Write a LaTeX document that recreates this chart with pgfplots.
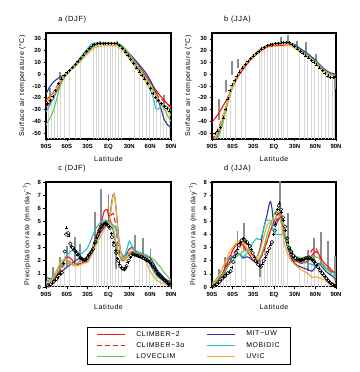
\documentclass[border=0pt]{standalone}
\usepackage{fontspec}
\setmainfont{Liberation Sans}
\newfontfamily\wide[LetterSpace=8]{Liberation Sans}
\usepackage{pgfplots}
\pgfplotsset{compat=1.18}
\definecolor{cRed}{RGB}{250,20,20}
\definecolor{cBlue}{RGB}{45,55,160}
\definecolor{cGreen}{RGB}{105,195,85}
\definecolor{cCyan}{RGB}{35,190,200}
\definecolor{cOrange}{RGB}{245,172,45}
\definecolor{lgray}{RGB}{214,214,214}
\definecolor{dgray}{RGB}{140,140,140}
\tikzset{
  mline/.style={line width=1.1pt, smooth, tension=0.35},
  mR/.style={mline, draw=cRed},
  mB/.style={mline, draw=cBlue},
  mRd/.style={mline, draw=cRed, dash pattern=on 5bp off 3bp},
  mC/.style={mline, draw=cCyan},
  mG/.style={mline, draw=cGreen},
  mO/.style={mline, draw=cOrange},
}
\pgfplotsset{
  longline/.style={legend image code/.code={\draw[##1] (0bp,0bp) -- (28bp,0bp);}},
  panel/.style={scale only axis, width=125bp, height=106bp,
    xmin=-90, xmax=90, xtick={-90,-60,...,90},
    xticklabels={90S,60S,30S,EQ,30N,60N,90N},
    tick align=outside, major tick length=2.5bp, tick pos=left,
    axis line style={line width=1.1pt}, every tick/.style={black, line width=0.6pt},
    tick label style={font=\bfseries\fontsize{6}{7}\selectfont},
    xticklabel style={yshift=1bp}, yticklabel style={xshift=1bp},
    /pgf/number format/assume math mode=true,
    xlabel={Latitude},
    label style={font=\wide\fontsize{7}{8}\selectfont},
    title style={at={(0.07,1)}, anchor=south west, yshift=0.5bp, font=\wide\fontsize{7.5}{9}\selectfont},
    clip=true},
  tpanel/.style={panel, ymin=-55, ymax=35, ytick={-50,-40,...,30},
    ylabel={Surface air temperature (°C)}},
  ppanel/.style={panel, height=105bp, ymin=0, ymax=8, ytick={0,1,...,8},
    ylabel={Precipitation rate (mm day\textsuperscript{−1})}},
  lightbars/.style={draw=none, mark=none,
    error bars/.cd, y dir=minus, y fixed=300, error mark=none,
    error bar style={draw=lgray, line width=0.7pt}},
  darkbars/.style={draw=none, mark=none,
    error bars/.cd, y dir=both, y explicit, error mark=none,
    error bar style={draw=dgray, line width=1.9pt}},
  crosses/.style={only marks, mark=+, mark size=1.5pt, black, mark options={line width=0.45pt}},
  circles/.style={only marks, mark=o, mark size=1.8pt, black, mark options={line width=0.5pt, fill=white}},
}
\begin{document}
\begin{tikzpicture}
\path[use as bounding box] (0,0) rectangle (360bp,372bp);

% ---------------- panel a ----------------
\begin{axis}[tpanel, at={(46bp,233bp)}, anchor=south west, title={a (DJF)}]
\addplot[forget plot, lightbars] coordinates {(-86,-23) (-82,-20) (-78,-16) (-73,-9) (-69,-5) (-64,-1) (-56,3.5) (-48,8.5) (-41,13) (-22,24.5) (-18,25.7) (-14,26.2) (-10,26.3) (-6,26.3) (-2,26.3) (2,26.3) (6,26.3) (10,26.1) (14,25.3) (19,22.7) (37,8) (44,2) (49,-2) (54,-5.7) (59,-11) (64,-16) (69,-20) (74,-24) (79,-26.5) (84,-29) (88,-31)};
\addplot[forget plot, darkbars] coordinates {(-84,-19) +- (0,7) (-70,-1.5) +- (0,3) (70,-19) +- (0,5) (80,-22.5) +- (0,4.5) (-12,27.3) +- (0,1) (12,27) +- (0,1)};
\addplot[mR] coordinates {(-90,-28) (-85,-25) (-80,-21) (-75,-15) (-70,-9) (-65,-4) (-60,0) (-50,6.5) (-40,13) (-30,19.5) (-20,24.3) (-10,26) (0,26) (10,25.8) (20,23) (30,16.5) (40,9.5) (50,2) (60,-6.5) (70,-15) (80,-22) (85,-25.5) (90,-29)};
\addplot[mB] coordinates {(-90,-17) (-85,-11) (-80,-7) (-75,-4.5) (-70,-2.5) (-65,-1) (-60,1) (-50,6.5) (-40,13) (-30,20) (-20,24.5) (-10,26) (0,26.3) (10,26) (20,23.5) (30,17.5) (40,11) (50,4) (55,0) (60,-5) (65,-11) (70,-19) (75,-28) (80,-38) (85,-43) (90,-45)};
\addplot[mRd] coordinates {(-90,-22) (-85,-19) (-80,-16) (-75,-11) (-70,-6) (-65,-2) (-60,0.5) (-50,6) (-40,12.5) (-30,19.5) (-20,24.5) (-10,26) (0,26.2) (10,26) (20,23) (30,15.5) (40,8) (50,0) (60,-9) (70,-18) (80,-23) (85,-25) (90,-28)};
\addplot[mC] coordinates {(-90,-32) (-85,-27) (-80,-21) (-75,-14) (-70,-6) (-65,-2) (-60,1) (-50,7.5) (-40,14.5) (-30,22) (-25,25.5) (-20,26.5) (-10,26.5) (0,26.5) (10,26) (20,22) (30,14.5) (40,6.5) (50,-2) (60,-13) (65,-21) (68,-29) (72,-29.5) (77,-26) (83,-27) (90,-31)};
\addplot[mG] coordinates {(-90,-43) (-85,-38) (-80,-32) (-75,-22) (-70,-11) (-65,-4) (-60,0) (-50,6) (-40,12.5) (-30,19) (-20,24) (-10,26) (0,26.5) (10,26.5) (15,26) (20,24) (30,17) (40,9) (50,0.5) (60,-9) (70,-19) (75,-24) (80,-29) (85,-35) (90,-40)};
\addplot[mO] coordinates {(-90,-25) (-85,-21) (-80,-17) (-75,-12) (-70,-7) (-65,-2.5) (-60,0.5) (-50,5.5) (-40,11) (-30,17.5) (-20,22.5) (-10,24) (0,24.3) (10,24) (20,20.5) (30,13) (40,5) (50,-3) (60,-12) (70,-20) (80,-28) (85,-31) (90,-35)};
\addplot[forget plot, crosses] coordinates {(-88,-25) (-84,-22) (-80,-19) (-76,-14) (-72,-8) (-68,-4) (-64,-1) (-60,1.5) (-56,3.5) (-52,6) (-48,8.5) (-44,11) (-40,13.5) (-36,16.5) (-32,19.5) (-28,22) (-24,24) (-20,25.3) (-16,26) (-12,26.3) (-8,26.3) (-4,26.3) (0,26.3) (4,26.3) (8,26.2) (12,26) (16,24.5) (20,22) (24,19) (28,16) (32,12.5) (36,9) (40,5.5) (44,2) (48,-1) (52,-4) (56,-7.5) (60,-12) (64,-16) (68,-19.5) (72,-22.5) (76,-25) (80,-27) (84,-29) (88,-31)};
\end{axis}

% ---------------- panel b ----------------
\begin{axis}[tpanel, at={(212bp,233bp)}, anchor=south west, width=124bp, title={b (JJA)}]
\addplot[forget plot, lightbars] coordinates {(-86,-50) (-82,-48) (-78,-45) (-73,-35) (-69,-28) (-64,-14) (-56,-4) (-48,3.7) (-41,8) (-22,19.5) (-18,21.5) (-14,23) (-10,24.3) (-6,25) (-2,25.5) (2,26) (6,26.3) (10,26.7) (14,27) (19,27) (37,20) (44,16.5) (49,14.4) (54,12) (59,9.5) (64,6.7) (69,3.6) (74,0.5) (79,-1.8) (84,-2.5) (88,-2.2)};
\addplot[forget plot, darkbars] coordinates {(-80,-30) +- (0,9) (-70,-10) +- (0,5) (-61,5) +- (0,6) (-52,9) +- (0,3.5) (10,29) +- (0,3) (20,29.5) +- (0,3.5) (33,25) +- (0,3.5) (47,22.5) +- (0,4.5) (60.5,13.5) +- (0,3.5) (78,0) +- (0,3) (89,-6) +- (0,6.5)};
\addplot[mR] coordinates {(-90,-41) (-85,-37) (-80,-33) (-75,-28) (-70,-23) (-65,-17) (-60,-11) (-55,-5) (-50,0) (-45,4) (-40,8) (-35,11.5) (-30,14.5) (-20,19.5) (-10,23) (0,24) (10,24.5) (20,25) (25,26) (30,25) (35,22) (40,19.5) (50,15) (60,10) (70,5) (80,1) (85,0) (90,-0.5)};
\addplot[mB] coordinates {(-90,-60) (-85,-56) (-80,-49) (-75,-40) (-70,-29) (-65,-19) (-60,-10) (-55,-3.5) (-50,1.5) (-45,6) (-40,9.5) (-30,15.5) (-20,21) (-10,24.5) (0,26) (10,26.5) (20,27) (30,25) (40,21) (50,17) (60,12) (70,6) (80,1.5) (90,0)};
\addplot[mRd] coordinates {(-90,-56) (-85,-51) (-80,-45) (-75,-37) (-70,-28) (-65,-19) (-60,-10) (-55,-4) (-50,1.5) (-45,6) (-40,9.5) (-30,15) (-20,20.5) (-10,24) (0,25.5) (10,26) (20,26) (30,23.5) (40,19.5) (50,15) (60,10.5) (70,4.5) (80,0.5) (90,-1)};
\addplot[mC] coordinates {(-90,-60) (-85,-55) (-80,-48) (-75,-39) (-70,-28) (-65,-18) (-60,-9) (-55,-3) (-50,2) (-45,6.5) (-40,10) (-30,16) (-20,21.5) (-10,24.5) (0,26) (10,26.5) (20,27) (30,24) (40,19.5) (50,15.5) (60,10.5) (65,7) (70,3.5) (80,0.5) (90,-1)};
\addplot[mG] coordinates {(-90,-62) (-85,-58) (-80,-52) (-75,-43) (-70,-31) (-65,-20) (-60,-11) (-55,-4) (-50,1.5) (-45,6) (-40,9.5) (-30,15.5) (-20,21) (-10,24.5) (0,26) (10,26.5) (20,26.5) (30,24) (40,19.5) (50,15) (60,11) (70,5) (80,0.5) (90,-2)};
\addplot[mO] coordinates {(-90,-58) (-85,-54) (-80,-47) (-75,-38) (-70,-28) (-65,-18) (-60,-9.5) (-55,-3) (-50,2) (-45,6) (-40,9.5) (-30,15.5) (-20,20.5) (-10,23.5) (0,25) (10,25.5) (20,25) (25,24) (30,22) (40,18) (50,14) (60,9.5) (70,3.5) (80,-0.5) (90,-1.5)};
\addplot[forget plot, crosses] coordinates {(-86,-50) (-82,-48) (-78,-45) (-74,-37) (-70,-30) (-67,-21) (-64,-14) (-61,-9) (-57,-5) (-54,-1.5) (-50,2) (-46,5.5) (-42,8.5) (-38,11) (-34,13.5) (-30,15.5) (-26,17.5) (-22,19.5) (-18,21.5) (-14,23) (-10,24.3) (-6,25) (-2,25.5) (2,26) (6,26.3) (10,26.7) (14,27) (18,27) (22,26.8) (26,25.5) (30,23.5) (34,21.5) (38,19.5) (42,17.5) (46,15.5) (50,14) (54,12) (58,10) (62,8) (66,5.5) (70,3) (74,0.5) (78,-1.5) (82,-2.5) (86,-2.5) (89,-2)};
\end{axis}

% ---------------- panel c ----------------
\begin{axis}[ppanel, at={(46bp,85bp)}, anchor=south west, title={c (DJF)},
  legend columns=2, longline,
  legend style={at={(0.328,-0.381)}, anchor=north west,
    font=\wide\fontsize{7}{8}\selectfont, inner xsep=9bp, inner ysep=2bp,
    row sep=0.8bp,
    /tikz/every odd column/.append style={column sep=9bp},
    /tikz/every even column/.append style={column sep=20bp}},
  legend cell align=left]
\addplot[forget plot, lightbars] coordinates {(-86,0.12) (-82,0.22) (-78,0.45) (-73,0.75) (-69,1.05) (-64,2.6) (-56,3.6) (-48,2.75) (-41,2.25) (-22,2.9) (-18,3.55) (-14,4.15) (-10,4.6) (-6,4.82) (-2,4.75) (2,4.5) (6,3.6) (10,2.8) (14,2.0) (19,1.45) (37,2.48) (44,2.35) (49,2.25) (54,2.1) (59,1.9) (64,1.6) (69,1.2) (74,0.85) (79,0.6) (84,0.35) (88,0.18)};
\addplot[forget plot, darkbars] coordinates {(-80,0.9) +- (0,0.6) (-70,1.6) +- (0,0.7) (-60,2.3) +- (0,0.8) (-48,2.9) +- (0,0.9) (-41,2.6) +- (0,0.7) (-20,4.6) +- (0,1.1) (-11,6.0) +- (0,1.5) (0,5.9) +- (0,1.2) (10.6,2.35) +- (0,0.95) (38,3.2) +- (0,0.75) (50,2.95) +- (0,0.75) (60.5,2.45) +- (0,0.45)};
\addplot[color=cRed, line width=1.1pt, smooth, tension=0.35] coordinates {(-90,0.3) (-85,0.4) (-80,0.6) (-75,0.9) (-70,1.3) (-65,1.9) (-60,2.3) (-55,2.2) (-50,1.9) (-45,1.7) (-40,1.8) (-35,1.9) (-30,2.1) (-25,2.7) (-20,3.5) (-15,4.3) (-10,5.0) (-6,5.8) (-2,5.9) (0,5.5) (3,5.0) (6,4.5) (10,3.5) (15,2.5) (20,2.0) (25,2.2) (30,2.6) (35,2.7) (40,2.7) (45,2.6) (50,2.5) (55,2.2) (60,1.8) (65,1.5) (70,1.2) (75,0.9) (80,0.6) (85,0.4) (90,0.3)};
\addlegendentry{CLIMBER−2}
\addplot[color=cBlue, line width=1.1pt, smooth, tension=0.35] coordinates {(-90,0.7) (-85,0.65) (-80,0.6) (-75,0.8) (-70,1.1) (-65,1.3) (-60,1.5) (-55,1.7) (-50,1.9) (-45,2.1) (-40,2.2) (-35,2.1) (-30,1.9) (-25,2.4) (-20,3.2) (-15,3.8) (-10,4.3) (-5,4.6) (0,5.0) (3,5.8) (6,6.9) (8,7.1) (10,6.5) (12,5.3) (15,3.6) (18,2.6) (22,2.3) (26,2.5) (30,2.9) (34,3.0) (38,2.7) (42,2.5) (50,2.5) (55,2.4) (60,2.2) (65,1.8) (70,1.3) (75,1.0) (80,0.7) (85,0.5) (90,0.4)};
\addlegendentry{MIT−UW}
\addplot[color=cRed, line width=1.1pt, smooth, tension=0.35, dash pattern=on 5bp off 3bp] coordinates {(-90,0.2) (-85,0.3) (-80,0.5) (-75,0.8) (-70,1.2) (-65,1.6) (-60,2.0) (-55,1.9) (-50,1.8) (-45,1.8) (-40,1.9) (-35,2.0) (-30,2.2) (-25,2.7) (-20,3.4) (-15,4.0) (-10,4.5) (-5,4.8) (0,5.0) (4,5.5) (7,5.6) (10,4.8) (13,3.5) (17,2.4) (22,2.0) (26,2.2) (30,2.5) (35,2.6) (40,2.5) (45,2.4) (50,2.4) (55,2.2) (60,1.7) (65,1.4) (70,1.0) (75,0.8) (80,0.5) (85,0.3) (90,0.2)};
\addlegendentry{CLIMBER−3α}
\addplot[color=cCyan, line width=1.1pt, smooth, tension=0.35] coordinates {(-90,0.4) (-85,0.55) (-80,0.8) (-75,1.2) (-70,1.6) (-65,2.0) (-60,2.4) (-55,2.7) (-50,2.8) (-45,2.6) (-40,2.5) (-35,2.7) (-30,3.0) (-25,3.6) (-20,4.3) (-15,4.7) (-10,5.0) (-5,5.1) (0,5.0) (5,4.8) (10,4.5) (14,3.7) (18,2.6) (22,2.2) (26,2.8) (30,3.5) (33,3.2) (38,2.8) (45,2.6) (55,2.3) (60,1.7) (65,1.2) (70,0.8) (75,0.6) (80,0.4) (85,0.3) (90,0.2)};
\addlegendentry{MOBIDIC}
\addplot[color=cGreen, line width=1.1pt, smooth, tension=0.35] coordinates {(-90,0.2) (-85,0.35) (-80,0.6) (-75,1.0) (-70,1.4) (-65,1.7) (-60,1.8) (-55,1.8) (-50,1.7) (-45,1.8) (-40,2.0) (-35,2.1) (-30,2.2) (-25,2.7) (-20,3.4) (-15,4.0) (-10,4.6) (-5,5.0) (0,4.9) (5,4.7) (8,4.2) (10,3.4) (15,2.5) (20,2.1) (25,2.2) (30,2.6) (35,2.6) (40,2.6) (45,2.5) (50,2.5) (55,2.4) (60,2.3) (65,2.1) (70,1.8) (75,1.5) (80,1.1) (85,0.8) (90,0.5)};
\addlegendentry{LOVECLIM}
\addplot[color=cOrange, line width=1.1pt, smooth, tension=0.35] coordinates {(-90,0.3) (-85,0.4) (-80,0.7) (-75,1.2) (-70,1.8) (-65,2.1) (-60,2.1) (-55,1.8) (-50,1.6) (-45,1.6) (-40,1.7) (-35,1.8) (-30,1.9) (-25,2.4) (-20,3.0) (-15,3.5) (-10,4.0) (-5,4.5) (0,4.8) (2,5.3) (4,6.0) (6,6.8) (8,7.1) (10,6.5) (12,5.2) (14,4.0) (17,2.8) (20,2.2) (23,2.0) (26,2.2) (30,2.8) (34,2.9) (38,2.6) (42,2.4) (50,2.3) (55,1.8) (60,1.2) (65,0.8) (70,0.5) (75,0.35) (80,0.25) (85,0.15) (90,0.1)};
\addlegendentry{UVIC}
\addplot[forget plot, circles] coordinates {(-87,0.1) (-83,0.2) (-79,0.4) (-75,0.6) (-71,0.9) (-67,1.1) (-63,2.7) (-61,4.0) (-58,4.1) (-55,3.3) (-52,3.0) (-49,2.8) (-46,2.6) (-43,2.4) (-40,2.2) (-37,2.1) (-34,2.05) (-31,2.2) (-28,2.45) (-25,2.65) (-22,2.9) (-19,3.4) (-16,3.9) (-13,4.3) (-10,4.6) (-7,4.8) (-4,4.85) (-1,4.7) (2,4.5) (5,3.8) (8,3.2) (11,2.6) (14,2.0) (17,1.6) (20,1.4) (23,1.35) (26,1.6) (29,2.0) (32,2.4) (35,2.5) (38,2.45) (41,2.4) (44,2.35) (47,2.3) (50,2.2) (53,2.1) (56,2.05) (59,1.9) (62,1.75) (65,1.5) (68,1.25) (71,1.0) (74,0.85) (77,0.7) (80,0.55) (83,0.4) (86,0.25) (89,0.15)};
\addplot[forget plot, crosses] coordinates {(-85,0.1) (-81,0.3) (-77,0.5) (-73,0.75) (-69,1.0) (-65,1.8) (-61,4.5) (-57,3.9) (-53,3.1) (-50,2.9) (-47,2.7) (-44,2.45) (-41,2.25) (-38,2.1) (-35,2.0) (-32,2.15) (-29,2.4) (-26,2.6) (-23,2.8) (-20,3.3) (-17,3.75) (-14,4.2) (-11,4.5) (-8,4.75) (-5,4.85) (-2,4.75) (1,4.6) (4,4.1) (7,3.4) (10,2.8) (13,2.2) (16,1.75) (19,1.5) (22,1.35) (25,1.5) (28,1.85) (31,2.25) (34,2.5) (37,2.5) (40,2.4) (43,2.35) (46,2.3) (49,2.25) (52,2.15) (55,2.05) (58,1.95) (61,1.8) (64,1.55) (67,1.3) (70,1.05) (73,0.9) (76,0.75) (79,0.6) (82,0.45) (85,0.3) (88,0.18)};
\end{axis}

% ---------------- panel d ----------------
\begin{axis}[ppanel, at={(212bp,85bp)}, anchor=south west, width=124bp, title={d (JJA)}]
\addplot[forget plot, lightbars] coordinates {(-86,0.1) (-82,0.25) (-78,0.45) (-73,0.75) (-69,0.95) (-64,1.15) (-56,2.45) (-48,3.5) (-41,3.5) (-22,1.65) (-18,1.65) (-14,2.1) (-10,2.6) (-6,3.05) (-2,3.6) (2,4.7) (6,6.0) (10,5.9) (14,5.1) (19,3.7) (37,2.05) (44,2.15) (49,2.2) (54,2.15) (59,1.9) (64,1.5) (69,1.1) (74,0.8) (79,0.45) (84,0.22) (88,0.1)};
\addplot[forget plot, darkbars] coordinates {(-80,0.95) +- (0,0.45) (-71,1.5) +- (0,0.8) (-53,3.5) +- (0,0.8) (-43,3.85) +- (0,1.05) (-20,1.4) +- (0,0.65) (9,6.6) +- (0,1.5) (20.5,4.3) +- (0,1.3) (49,2.0) +- (0,0.8) (58,2.65) +- (0,1.05) (68,2.9) +- (0,1.3) (78,2.4) +- (0,1.1) (88,1.4) +- (0,0.95)};
\addplot[mR] coordinates {(-90,0.1) (-85,0.3) (-80,0.6) (-75,1.0) (-70,1.6) (-65,2.2) (-60,2.8) (-55,3.2) (-50,3.3) (-45,3.2) (-40,2.8) (-35,2.4) (-30,2.0) (-25,1.8) (-20,2.2) (-15,2.8) (-10,3.5) (-5,4.3) (0,5.0) (5,5.5) (7,5.6) (10,5.0) (15,4.0) (20,3.0) (25,2.3) (30,2.0) (35,1.9) (40,1.8) (45,1.9) (50,2.0) (55,2.4) (60,2.7) (65,2.5) (70,2.0) (75,1.7) (80,1.5) (85,1.2) (90,1.0)};
\addplot[mB] coordinates {(-90,0.1) (-85,0.2) (-80,0.5) (-75,0.9) (-70,1.3) (-65,1.8) (-60,2.3) (-55,2.5) (-50,2.5) (-45,2.2) (-40,2.3) (-35,2.2) (-30,2.0) (-25,2.2) (-20,3.0) (-15,4.5) (-10,5.5) (-7,6.3) (-5,6.5) (-3,6.0) (-1,5.0) (2,4.6) (5,5.0) (9,5.3) (13,4.6) (17,3.6) (20,3.0) (25,2.2) (30,1.8) (35,1.6) (40,1.5) (45,1.4) (50,1.3) (55,1.2) (60,1.5) (65,1.8) (70,1.5) (75,1.2) (80,1.0) (85,0.8) (90,0.6)};
\addplot[mRd] coordinates {(-90,0.1) (-85,0.3) (-80,0.5) (-75,0.9) (-70,1.5) (-65,2.0) (-60,2.5) (-55,2.8) (-50,3.0) (-45,3.5) (-40,3.3) (-35,2.8) (-30,2.4) (-25,2.2) (-20,2.2) (-15,2.6) (-10,3.5) (-5,4.3) (0,4.8) (5,5.2) (8,5.5) (12,4.8) (15,4.0) (20,3.0) (25,2.3) (30,2.0) (40,1.8) (45,2.0) (50,2.3) (55,2.8) (60,3.0) (65,2.5) (70,1.8) (75,1.5) (80,1.3) (85,1.1) (90,1.0)};
\addplot[mC] coordinates {(-90,0.3) (-85,0.5) (-80,0.9) (-75,1.4) (-70,2.0) (-65,2.3) (-60,2.2) (-55,2.3) (-50,2.5) (-45,2.3) (-40,2.5) (-35,3.0) (-30,3.4) (-25,3.7) (-20,3.6) (-16,4.2) (-12,5.0) (-7,5.1) (-4,5.0) (-2,4.5) (0,4.1) (5,4.0) (10,4.0) (15,4.0) (18,3.5) (22,2.8) (26,2.4) (30,2.1) (40,1.9) (50,1.8) (55,1.7) (60,1.6) (65,1.7) (70,1.6) (75,1.4) (80,1.2) (85,1.1) (90,1.0)};
\addplot[mG] coordinates {(-90,0.1) (-85,0.25) (-80,0.5) (-75,0.9) (-70,1.3) (-65,1.7) (-60,2.0) (-55,2.3) (-50,2.5) (-45,2.7) (-40,2.8) (-35,2.6) (-30,2.3) (-25,2.0) (-20,2.3) (-15,3.0) (-10,4.0) (-5,4.8) (0,5.5) (5,6.0) (8,6.1) (12,5.3) (15,4.3) (20,3.3) (25,2.7) (30,2.4) (40,2.2) (50,2.3) (55,2.3) (60,2.3) (65,2.2) (70,1.8) (75,1.5) (80,1.2) (85,0.9) (90,0.7)};
\addplot[mO] coordinates {(-90,0.2) (-85,0.4) (-80,0.8) (-75,1.4) (-70,2.0) (-65,2.6) (-60,3.0) (-55,3.3) (-50,3.5) (-45,3.3) (-40,3.0) (-35,2.6) (-30,2.3) (-25,2.2) (-20,2.8) (-15,3.8) (-10,4.7) (-5,5.0) (0,5.1) (5,5.5) (8,5.4) (12,4.5) (15,3.3) (20,2.5) (25,2.0) (30,1.7) (40,1.3) (50,1.0) (55,0.7) (60,0.8) (65,0.7) (70,0.6) (75,0.5) (80,0.4) (85,0.3) (90,0.3)};
\addplot[forget plot, circles] coordinates {(-87,0.08) (-83,0.2) (-79,0.4) (-75,0.65) (-71,0.85) (-67,1.05) (-63,1.2) (-59,1.9) (-55,2.6) (-51,3.2) (-47,3.55) (-43,3.6) (-39,3.4) (-35,3.1) (-31,2.6) (-27,2.0) (-23,1.7) (-19,1.55) (-15,2.0) (-11,2.5) (-7,2.95) (-3,3.4) (1,4.3) (4,5.6) (7,6.2) (10,5.9) (13,5.3) (16,4.6) (19,3.7) (22,3.0) (25,2.7) (28,2.4) (31,2.2) (34,2.1) (37,2.05) (40,2.05) (43,2.1) (46,2.2) (49,2.2) (52,2.2) (55,2.1) (58,1.95) (61,1.75) (64,1.5) (67,1.25) (70,1.05) (73,0.85) (76,0.65) (79,0.45) (82,0.3) (85,0.18) (88,0.08)};
\addplot[forget plot, crosses] coordinates {(-85,0.12) (-81,0.3) (-77,0.5) (-73,0.75) (-69,0.95) (-65,1.1) (-61,1.5) (-57,2.3) (-53,2.9) (-49,3.4) (-45,3.7) (-41,3.5) (-37,3.25) (-33,2.85) (-29,2.3) (-25,1.85) (-21,1.6) (-17,1.75) (-13,2.25) (-9,2.7) (-5,3.2) (-1,4.0) (2,4.8) (5,5.9) (7.5,6.4) (11,5.7) (14,5.1) (17,4.3) (20,3.4) (23,2.9) (26,2.6) (29,2.3) (32,2.15) (35,2.1) (38,2.05) (41,2.1) (44,2.15) (47,2.2) (50,2.2) (53,2.15) (56,2.05) (59,1.9) (62,1.65) (65,1.4) (68,1.2) (71,1.0) (74,0.8) (77,0.6) (80,0.4) (83,0.25) (86,0.12) (89,0.05)};
\end{axis}
\end{tikzpicture}
\end{document}
